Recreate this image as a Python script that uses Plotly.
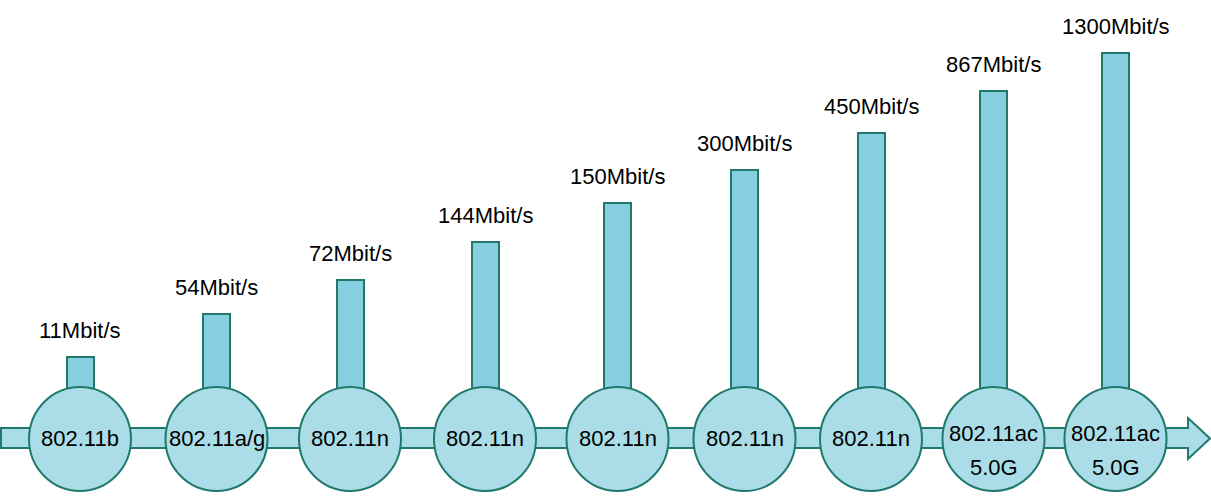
import plotly.graph_objects as go

# ---- data ----
standards = ["802.11b", "802.11a/g", "802.11n", "802.11n", "802.11n",
             "802.11n", "802.11n", "802.11ac", "802.11ac"]
bands = ["", "", "", "", "", "", "", "5.0G", "5.0G"]
speeds = ["11Mbit/s", "54Mbit/s", "72Mbit/s", "144Mbit/s", "150Mbit/s",
          "300Mbit/s", "450Mbit/s", "867Mbit/s", "1300Mbit/s"]
# schematic bar levels as drawn in the diagram (not proportional to speed)
bar_level = [141, 184, 218, 256, 295, 328, 365, 407, 445]

# ---- layout constants ----
W, H = 1211, 498
x_pos = [80, 216.5, 350, 485, 617.5, 744.5, 871, 993.5, 1115.5]
base = 80
r = 51
cy = 59
stroke = "#1F7A6C"
bar_fill = "#87CEE0"
circ_fill = "#AADDE7"
font_family = "Liberation Sans, Arial, sans-serif"

fig = go.Figure()
fig.add_trace(go.Bar(
    x=x_pos,
    y=[b - base for b in bar_level],
    base=base,
    width=27,
    marker=dict(color=bar_fill, line=dict(color=stroke, width=2)),
    hoverinfo="skip",
))

shapes = []
# arrow band
band_top, band_bot = 70, 50
head_x0, tip_x = 1188, 1210
shapes.append(dict(
    type="path",
    path=(f"M 1 {band_bot} L {head_x0} {band_bot} L {head_x0} 39 L {tip_x} {cy + 0.5} "
          f"L {head_x0} 80 L {head_x0} {band_top} L 1 {band_top} Z"),
    fillcolor=circ_fill, line=dict(color=stroke, width=2), layer="above",
))
for xc in x_pos:
    shapes.append(dict(type="circle", x0=xc - r, x1=xc + r, y0=cy - r - 1, y1=cy + r + 1,
                       fillcolor=circ_fill, line=dict(color=stroke, width=2), layer="above"))

annotations = []
for xc, s, b in zip(x_pos, standards, bands):
    if b:
        annotations.append(dict(x=xc, y=cy + 6, text=s, showarrow=False,
                                font=dict(size=22, color="black", family=font_family)))
        annotations.append(dict(x=xc, y=cy - 28, text=b, showarrow=False,
                                font=dict(size=22, color="black", family=font_family)))
    else:
        annotations.append(dict(x=xc, y=cy + 1, text=s, showarrow=False,
                                font=dict(size=22, color="black", family=font_family)))
for xc, sp, lvl in zip(x_pos, speeds, bar_level):
    annotations.append(dict(x=xc, y=lvl, text=sp, showarrow=False, yanchor="bottom",
                            yshift=12, font=dict(size=22, color="black", family=font_family)))

fig.update_layout(
    width=W, height=H, autosize=False,
    margin=dict(l=0, r=0, t=0, b=0),
    paper_bgcolor="white", plot_bgcolor="white",
    xaxis=dict(range=[0, W], visible=False, fixedrange=True),
    yaxis=dict(range=[0, H], visible=False, fixedrange=True),
    shapes=shapes, annotations=annotations, showlegend=False, bargap=0,
)
fig.write_html("out.html", config={"displayModeBar": False},
               post_script="document.body.style.margin='0px';")
